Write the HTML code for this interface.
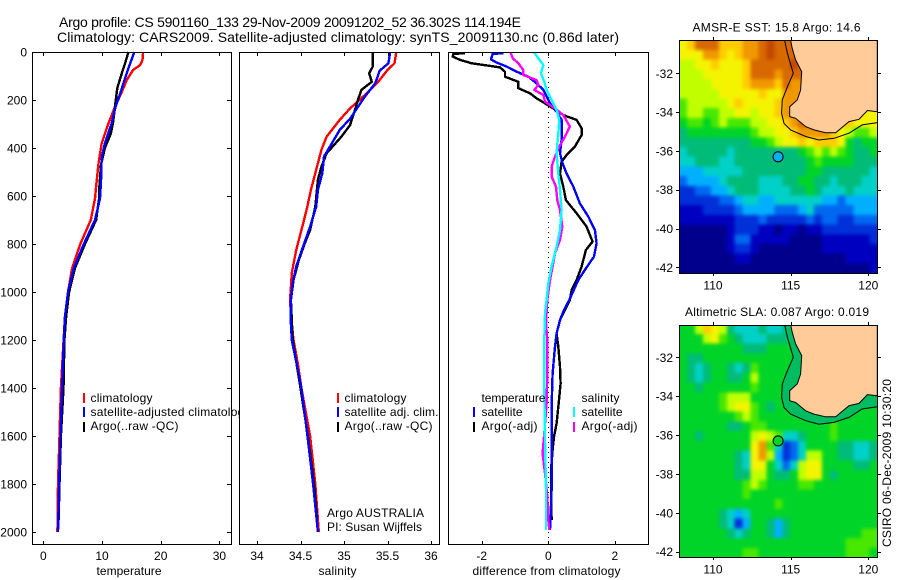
<!DOCTYPE html>
<html lang="en">
<head>
<meta charset="utf-8">
<title>Argo profile</title>
<style>
html,body{margin:0;padding:0;background:#fff;}
svg{display:block;}
text{font-family:"Liberation Sans",sans-serif;font-size:12px;fill:#000;}
.t14{font-size:14px;}
</style>
</head>
<body>
<svg id="fig" xmlns="http://www.w3.org/2000/svg" width="900" height="580" viewBox="0 0 900 580">
<defs>
<clipPath id="clipLegend"><rect x="0" y="380" width="239.5" height="60"/></clipPath>
<clipPath id="clipMap1"><rect x="679.5" y="40.5" width="198" height="232.5"/></clipPath>
<clipPath id="clipMap2"><rect x="679.5" y="325.5" width="198" height="232"/></clipPath>
<filter id="soften" filterUnits="userSpaceOnUse" x="640" y="0" width="260" height="580" color-interpolation-filters="sRGB"><feGaussianBlur stdDeviation="1.8"/></filter>
</defs>
<rect x="0" y="0" width="900" height="580" fill="#fff"/>
<text class="t14" x="59" y="27" textLength="462">Argo profile: CS 5901160_133 29-Nov-2009 20091202_52 36.302S 114.194E</text>
<text class="t14" x="57" y="42" textLength="562">Climatology: CARS2009. Satellite-adjusted climatology: synTS_20091130.nc (0.86d later)</text>

<g id="panel1"></g>
<g clip-path="url(#clipLegend)">
<rect x="83" y="393" width="2" height="10" fill="#f00"/>
<rect x="83" y="407" width="2" height="10" fill="#00f"/>
<rect x="83" y="422" width="2" height="10" fill="#000"/>
<text x="90.5" y="402" textLength="62">climatology</text>
<text x="90.5" y="416" textLength="160">satellite-adjusted climatology</text>
<text x="90.5" y="430" textLength="88">Argo(..raw -QC)</text>
</g>

<g id="panel2"></g>
<g>
<rect x="337" y="393" width="2" height="10" fill="#f00"/>
<rect x="337" y="407" width="2" height="10" fill="#00f"/>
<rect x="337" y="422" width="2" height="10" fill="#000"/>
<text x="344.5" y="402" textLength="62">climatology</text>
<text x="344.5" y="416" textLength="94">satellite adj. clim.</text>
<text x="344.5" y="430" textLength="88">Argo(..raw -QC)</text>
<text x="327" y="517" textLength="97">Argo AUSTRALIA</text>
<text x="327" y="531" textLength="95">PI: Susan Wijffels</text>
</g>

<g id="panel3"></g>
<g>
<text x="481.5" y="402" textLength="64">temperature</text>
<rect x="473" y="407" width="2" height="10" fill="#00f"/>
<text x="481.5" y="416" textLength="41">satellite</text>
<rect x="473" y="422" width="2" height="10" fill="#000"/>
<text x="481.5" y="430" textLength="56">Argo(-adj)</text>
<text x="581.5" y="402" textLength="38">salinity</text>
<rect x="573" y="407" width="2" height="10" fill="#0ff"/>
<text x="581.5" y="416" textLength="41">satellite</text>
<rect x="573" y="422" width="2" height="10" fill="#f0f"/>
<text x="581.5" y="430" textLength="56">Argo(-adj)</text>
</g>

<text x="692.5" y="31.5" textLength="168">AMSR-E SST: 15.8 Argo: 14.6</text>
<g id="map1"></g>
<text x="685" y="316" textLength="184">Altimetric SLA: 0.087 Argo: 0.019</text>
<g id="map2"></g>
<text transform="translate(891,547) rotate(-90)" x="0" y="0" textLength="168">CSIRO 06-Dec-2009 10:30:20</text>
</svg>

<script>
// ---- profile axis data ----
const depthTicks = [0,200,400,600,800,1000,1200,1400,1600,1800,2000];
const tempTicks = [0,10,20,30];
const salTicks = [34,34.5,35,35.5,36];
const diffTicks = [-2,0,2];

// ---- temperature panel ----
const tempClimDepth = [0,33,54,75,117,165,229,297,380,464,561,610,700,800,900,1000,1100,1200,1400,1600,1800,2000];
const tempClimValue = [17.0,16.9,16.5,15.3,14.2,13.4,12.2,11.1,9.95,9.4,9.0,8.8,8.1,6.3,4.9,4.2,3.7,3.45,3.0,2.76,2.5,2.4];
const tempArgoDepth = [0,50,90,150,229,290,340,400,470,560,610,700,800,900,1000,1100,1200,1400,1600,1800,1950];
const tempArgoValue = [14.5,13.9,13.35,12.6,12.2,11.9,11.5,10.5,9.83,9.55,9.5,9.0,7.1,5.4,4.4,3.9,3.6,3.44,3.0,2.76,2.6];
const tempSatDepth = [0,47,96,165,229,297,380,440,540,610,700,800,900,1000,1100,1200,1400,1600,1800,2000];
const tempSatValue = [15.5,14.8,14.1,13.2,12.3,11.65,10.5,9.95,9.83,9.66,8.8,6.9,5.2,4.2,3.7,3.5,3.2,2.93,2.7,2.5];

// ---- salinity panel ----
const salClimDepth = [3,47,75,130,186,235,283,353,408,478,575,658,742,825,921,1033,1100,1200,1300,1400,1600,1800,2000];
const salClimValue = [35.6,35.58,35.5,35.38,35.22,35.07,34.95,34.8,34.74,34.69,34.62,34.57,34.51,34.45,34.4,34.38,34.39,34.42,34.47,34.51,34.61,34.67,34.71];
const salArgoDepth = [3,61,89,124,158,200,249,304,353,422,478,533,644,742,797,867,950,1033,1200,1400,1600,1800,1950];
const salArgoValue = [35.33,35.33,35.29,35.32,35.2,35.16,35.12,35.07,34.97,34.8,34.74,34.7,34.67,34.61,34.55,34.48,34.42,34.39,34.41,34.5,34.585,34.655,34.69];
const salSatDepth = [3,47,78,130,186,235,278,325,381,436,505,575,644,728,811,894,964,1033,1100,1200,1325,1400,1600,1800,2000];
const salSatValue = [35.53,35.51,35.41,35.36,35.24,35.15,35.07,34.95,34.86,34.77,34.75,34.7,34.68,34.61,34.53,34.45,34.41,34.39,34.385,34.40,34.47,34.51,34.58,34.645,34.70];

// ---- difference panel ----
const diffArgoTDepth = [5,8,19,33,47,58,64,82,103,124,151,172,193,214,235,263,283,318,346,394,429,457,506,561,617,672,728,790,825,894,950,992,1033,1075,1117,1172,1228,1311,1381,1450,1547,1603,1658,1742,1950];
const diffArgoTValue = [-2.5,-2.85,-2.87,-2.65,-2.3,-1.75,-1.45,-1.3,-1.3,-0.9,-0.9,-0.55,-0.35,-0.1,0.15,0.45,0.85,1.0,1.0,0.8,0.55,0.4,0.35,0.45,0.53,0.85,1.15,1.33,1.13,1.0,0.85,0.7,0.65,0.5,0.35,0.25,0.3,0.35,0.37,0.32,0.25,0.17,0.13,0.08,0.1];
const diffSatTDepth = [5,8,31,44,61,82,103,131,158,186,214,249,283,367,422,464,506,561,631,686,742,797,853,908,950,1033,1075,1117,1172,1228,1339,1478,1658,1825,1992];
const diffSatTValue = [-1.35,-1.67,-1.72,-1.55,-1.25,-0.95,-0.6,-0.35,-0.15,-0.05,0.05,0.25,0.4,0.4,0.35,0.43,0.55,0.75,0.95,1.2,1.4,1.45,1.37,1.1,0.9,0.63,0.47,0.35,0.25,0.2,0.13,0.1,0.1,0.1,0.05];
const diffArgoSDepth = [3,26,47,75,96,117,138,158,179,207,235,263,311,353,394,436,478,519,561,617,658,728,783,839,894,950,1033,1131,1200,1339,1464,1603,1672,1756,1853,1950,1992];
const diffArgoSValue = [-1.13,-1.07,-0.9,-0.75,-0.75,-0.35,-0.3,-0.42,-0.15,-0.1,0.2,0.45,0.65,0.5,0.33,0.2,0.1,0.1,0.23,0.27,0.35,0.42,0.35,0.2,0.13,0.05,-0.03,-0.07,-0.03,-0.03,-0.05,-0.13,-0.17,-0.1,-0.03,0,0.03];
const diffSatSDepth = [3,26,54,89,124,158,200,242,283,339,422,506,575,658,742,811,894,964,1033,1089,1200,1408,1617,1825,1992];
const diffSatSValue = [-0.42,-0.3,-0.15,-0.22,-0.12,-0.05,0.1,0.25,0.33,0.3,0.25,0.3,0.35,0.4,0.35,0.25,0.1,0,-0.05,-0.1,-0.12,-0.12,-0.1,-0.07,-0.07];

// ---- map data ----
const mapLonTicks = [110,115,120];
const mapLatTicks = [-32,-34,-36,-38,-40,-42];
const argoLon = 114.194;
const argoLat = -36.302;
const coastLon = [115,115.1,115.32,115.71,115.64,115.43,114.94,114.94,115.32,115.97,116.5,117.25,117.9,118.76,119.4,119.94,120.58];
const coastLat = [-30.3,-30.71,-31.31,-31.91,-32.86,-33.37,-33.72,-34.23,-34.32,-34.75,-34.92,-35.06,-35.06,-34.49,-34.37,-33.92,-33.98];
const shelfLon = [114.61,114.79,115.17,114.79,114.46,114.42,114.57,115,115.97,116.82,117.79,118.76,119.61,120.58];
const shelfLat = [-30.3,-30.97,-32,-32.69,-33.37,-34.06,-34.58,-34.92,-35.26,-35.44,-35.35,-35.09,-34.66,-34.54];

const sstGrid = [
[10,11,13,13,13,11,11,11,12,12,13,14,13,13,13,13,13,13,13,13,13,13,13,13,13],
[10,10,10,12,12,11,10,11,12,12,13,14,13,13,13,13,13,13,13,13,13,13,13,13,13],
[9,9,10,10,11,10,10,10,11,13,13,13,13,13,14,13,13,13,13,13,13,13,13,13,13],
[9,9,9,10,10,10,10,10,11,13,13,13,12,13,13,13,13,13,13,13,13,13,13,13,13],
[9,9,9,9,10,10,10,10,11,12,12,12,11,13,12,12,12,12,12,12,12,12,12,12,12],
[9,9,9,9,9,10,10,10,10,10,11,10,10,12,12,12,12,12,12,12,12,12,12,12,12],
[8,9,9,9,9,9,10,11,10,10,10,10,11,12,12,12,12,12,12,12,12,12,12,12,12],
[8,9,9,8,8,9,9,10,10,9,10,10,11,12,12,12,12,12,12,12,12,12,11,10,10],
[7,8,8,7,8,9,8,8,8,9,9,10,10,11,12,13,13,13,13,12,11,11,10,10,10],
[6,7,7,7,7,7,7,7,7,8,9,9,10,10,11,12,12,12,12,11,10,9,8,8,9],
[6,6,6,6,6,6,6,6,6,7,7,8,9,10,10,11,10,11,11,11,10,7,6,7,7],
[5,6,6,6,6,6,5,6,6,6,6,6,6,6,6,7,8,9,8,9,8,7,6,6,7],
[5,5,6,6,6,5,5,6,6,6,6,6,6,6,6,6,7,8,7,7,7,7,6,6,6],
[4,4,4,5,5,5,5,5,6,6,6,6,6,6,6,6,7,7,6,6,6,6,6,6,5],
[3,4,4,4,4,5,6,6,6,6,5,5,5,6,6,7,7,6,6,5,6,6,6,5,5],
[2,2,3,3,4,4,5,6,6,6,5,5,5,5,6,6,7,6,5,5,5,6,5,5,5],
[2,2,2,2,2,3,3,4,5,5,4,4,5,5,5,5,5,5,4,4,3,4,4,4,4],
[1,1,1,2,2,2,2,3,4,4,4,4,3,3,3,4,5,3,3,3,3,3,4,4,4],
[1,1,1,1,1,1,1,2,2,2,3,2,2,2,2,2,3,2,3,3,2,2,3,3,3],
[0,0,0,0,0,0,1,2,2,2,1,1,0,1,1,0,1,1,2,2,2,2,2,2,2],
[0,0,0,0,0,0,1,3,3,1,1,1,1,1,0,0,0,0,1,1,1,1,1,1,2],
[0,0,0,0,0,0,1,2,2,1,0,0,0,0,0,0,0,0,1,1,1,1,1,1,1],
[0,0,0,0,0,0,0,1,1,0,0,0,0,0,0,0,0,0,0,0,0,1,1,1,1],
[0,0,0,0,0,0,0,0,0,0,0,0,0,0,0,0,0,0,0,0,0,0,0,0,1]
];
const slaGrid = [
[7,7,9,11,10,9,6,5,5,5,6,5,5,6,7,7,7,7,7,7,7,7,7,7,7],
[7,7,7,9,10,8,7,6,5,5,5,6,6,6,7,7,7,7,7,7,7,7,7,7,7],
[7,7,7,7,7,7,7,7,6,6,6,7,7,7,7,7,7,7,7,7,7,7,7,7,7],
[7,6,6,7,7,7,7,7,7,7,7,7,7,7,7,7,7,7,7,7,7,7,7,7,7],
[7,6,5,6,7,7,6,5,6,8,7,7,7,7,7,7,7,7,7,7,7,7,7,7,7],
[7,6,5,6,7,7,6,6,7,9,7,7,7,7,7,7,7,7,7,7,7,7,7,7,7],
[7,7,6,7,7,7,7,7,7,8,7,7,7,7,7,7,7,7,7,7,7,7,7,7,7],
[7,7,7,7,7,8,9,9,9,7,7,7,7,7,7,7,7,7,7,7,7,7,7,7,7],
[7,7,7,7,7,8,9,10,10,8,7,6,7,7,7,7,7,7,7,7,7,7,7,7,7],
[7,7,7,7,7,7,7,8,9,8,7,7,7,7,7,7,7,7,7,7,7,7,7,7,7],
[7,7,7,7,7,7,6,6,7,8,8,7,7,7,7,7,7,7,7,8,7,7,7,7,7],
[7,7,6,7,7,7,7,7,7,9,10,9,8,5,5,6,7,7,7,8,7,7,7,7,7],
[7,7,7,7,7,7,7,7,7,10,12,8,5,2,3,5,7,7,7,7,6,6,5,5,6],
[7,7,7,7,7,7,7,6,5,10,12,9,4,2,3,5,9,9,7,7,6,6,5,5,6],
[7,7,7,7,7,7,7,6,5,10,10,7,5,3,5,9,10,10,7,7,7,7,6,6,7],
[7,7,7,7,7,7,7,6,6,9,9,7,6,6,7,9,10,10,7,6,7,7,7,7,7],
[7,7,7,7,7,7,7,7,8,9,8,7,7,7,7,8,8,7,7,7,7,7,7,7,7],
[7,7,7,7,7,7,7,7,8,7,7,7,7,7,7,7,7,7,7,7,7,7,7,7,7],
[7,7,7,7,7,7,7,7,7,7,7,7,8,7,7,7,7,7,7,7,7,7,7,7,7],
[7,7,7,7,7,6,5,4,5,7,7,7,7,7,7,7,7,7,7,7,7,7,7,7,7],
[7,7,7,7,7,6,5,2,4,7,7,6,4,6,7,7,7,7,7,7,7,7,7,7,7],
[7,7,7,7,7,7,6,5,6,7,7,6,4,6,7,7,7,7,7,7,7,7,7,8,8],
[7,7,7,7,7,7,7,7,7,7,7,7,7,7,7,7,7,7,7,7,7,8,8,8,8],
[7,7,7,7,7,7,7,7,8,8,7,7,7,7,7,7,7,7,7,7,7,8,8,8,7]
];
const levelColors = ['#00008c','#0000c0','#0030d8','#0068f0','#00b0ff','#00d0c8','#00bc78','#00d428','#48e800','#c0ff00','#f4f400','#ffcc00','#f09800','#d86800','#c04800'];

// ---- axis functions ----
const SVGNS = 'http://www.w3.org/2000/svg';
function depthY(d){ return 52 + d * 0.24; }
function tempX(v){ return 43.3 + v * 5.87; }
function salX(v){ return 257 + (v - 34) * 87; }
function diffX(v){ return 548.3 + v * 33.3; }
function mapX(lon){ return 713 + (lon - 110) * 15.53; }
function map1Y(lat){ return 73.3 + (-32 - lat) * 19.4; }
function map2Y(lat){ return 357.3 + (-32 - lat) * 19.44; }

function rule(parent, x1, y1, x2, y2){
  const el = document.createElementNS(SVGNS, 'line');
  
  
  el.setAttribute('x1', x1); el.setAttribute('y1', y1);
  el.setAttribute('x2', x2); el.setAttribute('y2', y2);
  el.setAttribute('stroke', '#000');
  el.setAttribute('stroke-width', '1');
  el.setAttribute('shape-rendering', 'crispEdges');
  parent.appendChild(el);
}
function label(parent, x, y, str, anchor){
  const el = document.createElementNS(SVGNS, 'text');
  
  
  el.setAttribute('x', x); el.setAttribute('y', y);
  el.setAttribute('text-anchor', anchor);
  el.textContent = str;
  parent.appendChild(el);
}
function axisTitle(parent, cx, y, str, len){
  const el = document.createElementNS(SVGNS, 'text');
  
  
  el.setAttribute('x', cx - len / 2); el.setAttribute('y', y);
  el.setAttribute('textLength', len);
  el.textContent = str;
  parent.appendChild(el);
}
function frame(parent, x, y, w, h){
  const el = document.createElementNS(SVGNS, 'rect');
  
  
  el.setAttribute('x', x); el.setAttribute('y', y);
  el.setAttribute('width', w); el.setAttribute('height', h);
  el.setAttribute('fill', 'none');
  el.setAttribute('stroke', '#000');
  el.setAttribute('stroke-width', '1');
  el.setAttribute('shape-rendering', 'crispEdges');
  parent.appendChild(el);
}
function profile(parent, name, depths, values, xFn, color){
  const el = document.createElementNS(SVGNS, 'polyline');
  
  
  el.setAttribute('points', depths.map(function(d, i){ return xFn(values[i]).toFixed(1) + ',' + depthY(d).toFixed(1); }).join(' '));
  el.setAttribute('fill', 'none');
  el.setAttribute('stroke', color);
  el.setAttribute('stroke-width', '2.4');
  el.setAttribute('stroke-linejoin', 'round');
  el.setAttribute('shape-rendering', 'crispEdges');
  parent.appendChild(el);
}

// ---- panel 1 ----
const p1 = document.getElementById('panel1');
profile(p1, 'temperature-climatology-line', tempClimDepth, tempClimValue, tempX, '#f00');
profile(p1, 'temperature-argo-line', tempArgoDepth, tempArgoValue, tempX, '#000');
profile(p1, 'temperature-satellite-line', tempSatDepth, tempSatValue, tempX, '#00f');
frame(p1, 32.5, 52.5, 199, 492);
depthTicks.forEach(function(d){
  const y = Math.round(depthY(d)) + 0.5;
  rule(p1, 32, y, 36, y);
  rule(p1, 227, y, 231, y);
  label(p1, 27, depthY(d) + 4.5, String(d), 'end');
});
tempTicks.forEach(function(v){
  const x = Math.round(tempX(v)) + 0.5;
  rule(p1, x, 52, x, 56);
  rule(p1, x, 541, x, 545);
  label(p1, tempX(v), 560, String(v), 'middle');
});
axisTitle(p1, 129, 575, 'temperature', 65);

// ---- panel 2 ----
const p2 = document.getElementById('panel2');
profile(p2, 'salinity-climatology-line', salClimDepth, salClimValue, salX, '#f00');
profile(p2, 'salinity-argo-line', salArgoDepth, salArgoValue, salX, '#000');
profile(p2, 'salinity-satellite-line', salSatDepth, salSatValue, salX, '#00f');
frame(p2, 239.5, 52.5, 200, 492);
salTicks.forEach(function(v){
  const x = Math.round(salX(v)) + 0.5;
  rule(p2, x, 52, x, 56);
  rule(p2, x, 541, x, 545);
  label(p2, salX(v), 560, String(v), 'middle');
});
axisTitle(p2, 337.5, 575, 'salinity', 38);

// ---- panel 3 ----
const p3 = document.getElementById('panel3');
const zeroLine = document.createElementNS(SVGNS, 'line');


zeroLine.setAttribute('x1', Math.round(diffX(0)) + 0.5);
zeroLine.setAttribute('x2', Math.round(diffX(0)) + 0.5);
zeroLine.setAttribute('y1', 52);
zeroLine.setAttribute('y2', 545);
zeroLine.setAttribute('stroke', '#000');
zeroLine.setAttribute('stroke-width', '1');
zeroLine.setAttribute('stroke-dasharray', '1 4');
zeroLine.setAttribute('shape-rendering', 'crispEdges');
p3.appendChild(zeroLine);
profile(p3, 'difference-temperature-argo-line', diffArgoTDepth, diffArgoTValue, diffX, '#000');
profile(p3, 'difference-temperature-satellite-line', diffSatTDepth, diffSatTValue, diffX, '#00f');
profile(p3, 'difference-salinity-argo-line', diffArgoSDepth, diffArgoSValue, diffX, '#f0f');
profile(p3, 'difference-salinity-satellite-line', diffSatSDepth, diffSatSValue, diffX, '#0ff');
frame(p3, 448.5, 52.5, 200, 492);
diffTicks.forEach(function(v){
  const x = Math.round(diffX(v)) + 0.5;
  rule(p3, x, 52, x, 56);
  rule(p3, x, 541, x, 545);
  label(p3, diffX(v), 560, String(v), 'middle');
});
axisTitle(p3, 546.5, 575, 'difference from climatology', 148);

// ---- maps ----
function drawMap(group, grid, latFn, clipId, top, bottom, labelY, markerColor, cellName, shelfFill){
  const lonMin = 107.83, lonMax = 120.58, latMax = -30.3, latMin = -42.3;
  const rows = grid.length, cols = grid[0].length;
  const holder = document.createElementNS(SVGNS, 'g');
  
  
  holder.setAttribute('clip-path', 'url(#' + clipId + ')');
  group.appendChild(holder);
  const heat = document.createElementNS(SVGNS, 'g');
  
  
  heat.setAttribute('filter', 'url(#soften)');
  holder.appendChild(heat);
  grid.forEach(function(row, r){
    row.forEach(function(v, c){
      let x0 = mapX(lonMin + c * (lonMax - lonMin) / cols);
      let x1 = mapX(lonMin + (c + 1) * (lonMax - lonMin) / cols);
      let y0 = latFn(latMax - r * (latMax - latMin) / rows);
      let y1 = latFn(latMax - (r + 1) * (latMax - latMin) / rows);
      if (c === 0) { x0 -= 12; }
      if (c === cols - 1) { x1 += 12; }
      if (r === 0) { y0 -= 12; }
      if (r === rows - 1) { y1 += 12; }
      const cell = document.createElementNS(SVGNS, 'rect');
      
      
      cell.setAttribute('x', x0.toFixed(2));
      cell.setAttribute('y', y0.toFixed(2));
      cell.setAttribute('width', (x1 - x0 + 0.5).toFixed(2));
      cell.setAttribute('height', (y1 - y0 + 0.5).toFixed(2));
      cell.setAttribute('fill', levelColors[v]);
      cell.setAttribute('shape-rendering', 'crispEdges');
      heat.appendChild(cell);
    });
  });
  const shelfPts = shelfLon.map(function(lon, i){ return mapX(lon).toFixed(1) + ',' + latFn(shelfLat[i]).toFixed(1); });
  const landPts = coastLon.map(function(lon, i){ return mapX(lon).toFixed(1) + ',' + latFn(coastLat[i]).toFixed(1); });
  if (shelfFill) {
    const band = document.createElementNS(SVGNS, 'polygon');
    
    
    band.setAttribute('points', shelfPts.concat(landPts.slice().reverse()).join(' '));
    band.setAttribute('fill', shelfFill);
    holder.appendChild(band);
  }
  landPts.push(mapX(120.58).toFixed(1) + ',' + latFn(-30.3).toFixed(1));
  const land = document.createElementNS(SVGNS, 'polygon');
  
  
  land.setAttribute('points', landPts.join(' '));
  land.setAttribute('fill', '#ffcc99');
  land.setAttribute('stroke', '#000');
  land.setAttribute('stroke-width', '1');
  holder.appendChild(land);
  const shelf = document.createElementNS(SVGNS, 'polyline');
  
  
  shelf.setAttribute('points', shelfPts.join(' '));
  shelf.setAttribute('fill', 'none');
  shelf.setAttribute('stroke', '#000');
  shelf.setAttribute('stroke-width', '1');
  holder.appendChild(shelf);
  const marker = document.createElementNS(SVGNS, 'circle');
  
  
  marker.setAttribute('cx', mapX(argoLon).toFixed(1));
  marker.setAttribute('cy', latFn(argoLat).toFixed(1));
  marker.setAttribute('r', '5');
  marker.setAttribute('fill', markerColor);
  marker.setAttribute('stroke', '#000');
  marker.setAttribute('stroke-width', '1');
  holder.appendChild(marker);
  frame(group, 679.5, top + 0.5, 198, bottom - top);
  mapLonTicks.forEach(function(lon){
    const x = Math.round(mapX(lon)) + 0.5;
    rule(group, x, top - 3, x, top);
    rule(group, x, bottom, x, bottom + 3);
    label(group, mapX(lon), labelY, String(lon), 'middle');
  });
  mapLatTicks.forEach(function(lat){
    const y = Math.round(latFn(lat)) + 0.5;
    rule(group, 676, y, 679, y);
    rule(group, 878, y, 881, y);
    label(group, 673, latFn(lat) + 4.5, String(lat), 'end');
  });
}
drawMap(document.getElementById('map1'), sstGrid, map1Y, 'clipMap1', 40, 273, 289.5, '#00b0ff', 'sst-cell', null);
drawMap(document.getElementById('map2'), slaGrid, map2Y, 'clipMap2', 325, 557, 573.5, '#00d428', 'sla-cell', '#00bc60');
</script>
</body>
</html>
